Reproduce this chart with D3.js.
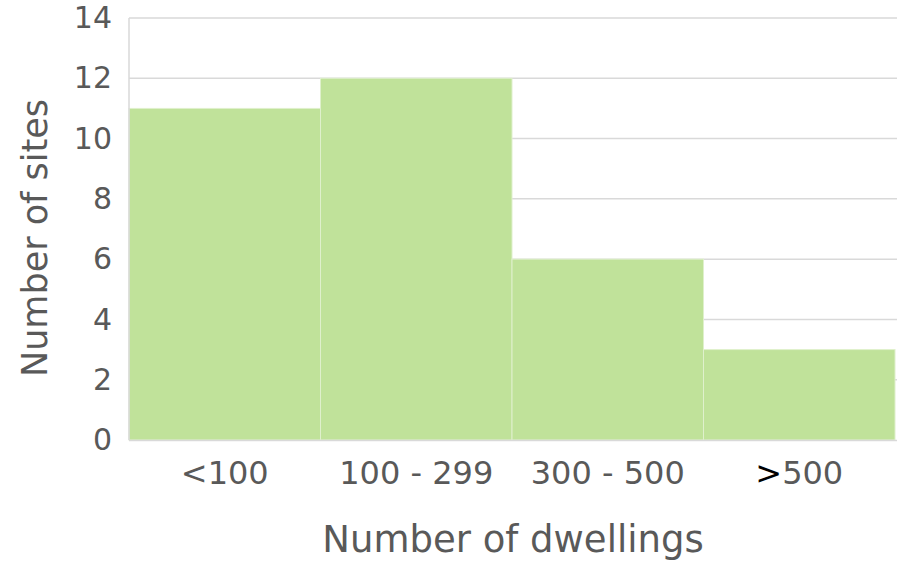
<!DOCTYPE html>
<html>
<head>
<meta charset="utf-8">
<script src="https://cdn.jsdelivr.net/npm/d3@7/dist/d3.min.js"></script>
<style>
  html, body { margin: 0; padding: 0; background: #ffffff; }
  svg { display: block; }
  text { font-family: "DejaVu Sans", Verdana, sans-serif; fill: #595959; }
</style>
</head>
<body>
<svg id="chart" width="897" height="563"></svg>
<script>
// Histogram of sites by number of dwellings
const categories = ["<100", "100 - 299", "300 - 500", ">500"];
const siteCounts = [11, 12, 6, 3];
const yTicks = [0, 2, 4, 6, 8, 10, 12, 14];
const xTitle = "Number of dwellings";
const yTitle = "Number of sites";

const plot = { left: 129, right: 895, top: 18, bottom: 440, gridRight: 897 };

const svg = d3.select("#chart");

const x = d3.scaleBand()
  .domain(categories)
  .range([plot.left, plot.right])
  .paddingInner(0)
  .paddingOuter(0);

const y = d3.scaleLinear()
  .domain([0, 14])
  .range([plot.bottom, plot.top]);

// horizontal gridlines
svg.append("g")
  .selectAll("line")
  .data(yTicks.filter(d => d > 0))
  .join("line")
  .attr("x1", plot.left)
  .attr("x2", plot.gridRight)
  .attr("y1", d => y(d))
  .attr("y2", d => y(d))
  .attr("stroke", "#d9d9d9")
  .attr("stroke-width", 1.5);

// bars, touching each other like a histogram
svg.append("g")
  .selectAll("rect")
  .data(categories.map((c, i) => ({ c, v: siteCounts[i] })))
  .join("rect")
  .attr("x", d => x(d.c))
  .attr("width", x.bandwidth())
  .attr("y", d => y(d.v))
  .attr("height", d => y(0) - y(d.v))
  .attr("fill", "#c0e29a")
  .attr("stroke", "#dff0cc")
  .attr("stroke-width", 1);

// y axis line and baseline
svg.append("line")
  .attr("x1", plot.left).attr("x2", plot.left)
  .attr("y1", plot.top).attr("y2", plot.bottom)
  .attr("stroke", "#d9d9d9").attr("stroke-width", 1.5);
svg.append("line")
  .attr("x1", plot.left).attr("x2", plot.gridRight)
  .attr("y1", plot.bottom + 0.5).attr("y2", plot.bottom + 0.5)
  .attr("stroke", "#d9d9d9").attr("stroke-width", 1.5);

// y tick labels
const yAxis = d3.axisLeft(y).tickValues(yTicks).tickSize(0).tickPadding(17);
const gy = svg.append("g")
  .attr("transform", `translate(${plot.left},0)`)
  .call(yAxis);
gy.select(".domain").remove();
gy.selectAll("text")
  .style("font-family", '"DejaVu Sans", Verdana, sans-serif')
  .style("font-size", "30px")
  .attr("fill", "#595959");

// x category labels
const xAxis = d3.axisBottom(x).tickSize(0).tickPadding(21);
const gx = svg.append("g")
  .attr("transform", `translate(0,${plot.bottom})`)
  .call(xAxis);
gx.select(".domain").remove();
gx.selectAll("text")
  .style("font-family", '"DejaVu Sans", Verdana, sans-serif')
  .style("font-size", "32px")
  .attr("fill", "#595959")
  .each(function (d) {
    // a leading ">" is drawn in black, the rest in grey
    if (d.startsWith(">")) {
      const t = d3.select(this).text(null);
      t.append("tspan").style("fill", "#000000").text(">");
      t.append("tspan").text(d.slice(1));
    }
  });

// axis titles
svg.append("text")
  .attr("x", 513)
  .attr("y", 552)
  .attr("text-anchor", "middle")
  .style("font-size", "37px")
  .text(xTitle);

svg.append("text")
  .attr("transform", `translate(47,238) rotate(-90)`)
  .attr("text-anchor", "middle")
  .style("font-size", "35px")
  .text(yTitle);
</script>
</body>
</html>
